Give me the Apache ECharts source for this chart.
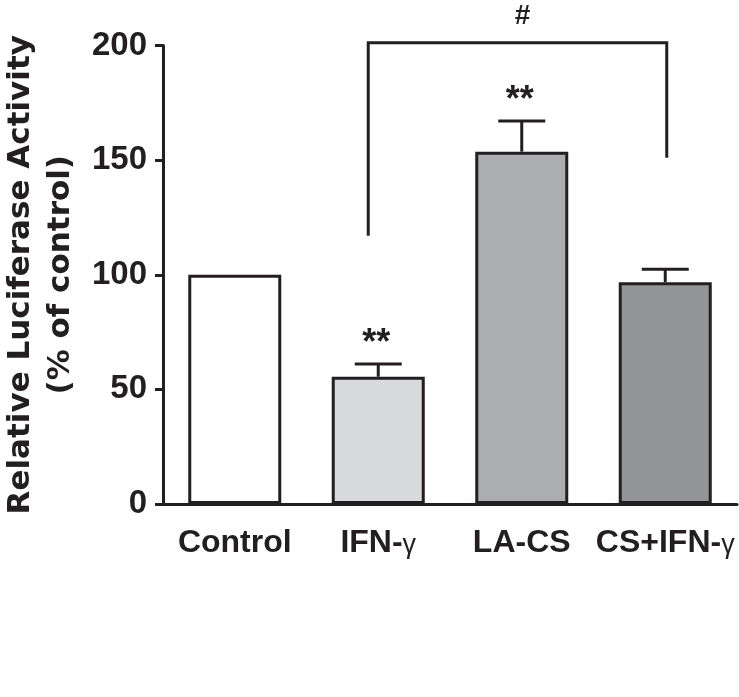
<!DOCTYPE html>
<html>
<head>
<meta charset="utf-8">
<script src="https://cdn.jsdelivr.net/npm/echarts@6/dist/echarts.min.js"></script>
<style>
html,body{margin:0;padding:0;background:#fff;}
#chart{width:739px;height:697px;}
</style>
</head>
<body>
<div id="chart"></div>
<script>
// ---- data ----
const categories = ['Control', 'IFN-γ', 'LA-CS', 'CS+IFN-γ'];
const means = [100, 55.5, 153.7, 96.7];
const errors = [0, 5.6, 13.4, 5.7];
const stars = ['', '**', '**', ''];
const yTicks = [0, 50, 100, 150, 200];
const bracketCats = [1, 3];        // IFN-γ vs CS+IFN-γ
const bracketEnds = [117, 151];    // lower ends of the bracket legs
const bracketTop = 201.2;
const bracketLabel = '#';

// ---- styles ----
const ink = '#231f20';
const fills = ['#ffffff', '#d9dadb', '#acadaf', '#939496'];

const chart = echarts.init(document.getElementById('chart'), null, {renderer: 'canvas'});

const option = {
  animation: false,
  backgroundColor: '#ffffff',
  grid: {left: 163, right: 2, top: 45.5, bottom: 193, containLabel: false, outerBoundsMode: 'none'},
  xAxis: {
    type: 'category',
    data: categories,
    axisLine: {show: true, lineStyle: {color: ink, width: 3}},
    axisTick: {show: false},
    axisLabel: {
      interval: 0,
      hideOverlap: false,
      margin: 23,
      formatter: function (v) {
        if (v.endsWith('γ')) return '{b|' + v.slice(0, -1) + '}{g|γ}';
        return '{b|' + v + '}';
      },
      rich: {
        b: {fontFamily: '"Liberation Sans", Arial', fontWeight: 'bold', fontSize: 32, color: ink, verticalAlign: 'bottom'},
        g: {fontFamily: '"Liberation Sans", Arial', fontWeight: 'normal', fontSize: 27, color: ink, verticalAlign: 'bottom'}
      }
    },
    splitLine: {show: false}
  },
  yAxis: {
    type: 'value',
    min: yTicks[0],
    max: yTicks[yTicks.length - 1],
    interval: yTicks[1] - yTicks[0],
    axisLine: {show: true, lineStyle: {color: ink, width: 3}},
    axisTick: {show: true, length: 8, lineStyle: {color: ink, width: 3}},
    axisLabel: {
      margin: 16,
      fontFamily: '"Liberation Sans", Arial',
      fontWeight: 'bold', fontSize: 33, color: ink
    },
    splitLine: {show: false},
    name: 'Relative Luciferase Activity\n(% of control)',
    nameLocation: 'middle',
    nameRotate: 90,
    nameGap: 82,
    nameTextStyle: {
      fontFamily: '"DejaVu Sans", sans-serif', fontWeight: 'bold',
      fontSize: 31, lineHeight: 40, color: ink, align: 'center'
    }
  },
  series: [
    {
      type: 'bar',
      barWidth: 93,
      data: means.map((v, i) => ({
        value: v,
        itemStyle: {color: fills[i], borderColor: ink, borderWidth: 3}
      })),
      z: 2
    },
    {
      type: 'custom',
      clip: false,
      z: 3,
      data: categories.map((c, i) => [i, means[i], means[i] + errors[i]]),
      renderItem: function (params, api) {
        const i = params.dataIndex;
        const base = api.coord([api.value(0), api.value(1)]);
        const top = api.coord([api.value(0), api.value(2)]);
        const children = [];
        if (api.value(2) > api.value(1)) {
          children.push({
            type: 'line',
            shape: {x1: base[0], y1: base[1], x2: top[0], y2: top[1]},
            style: {stroke: ink, lineWidth: 3}
          });
          children.push({
            type: 'line',
            shape: {x1: top[0] - 23.5, y1: top[1], x2: top[0] + 23.5, y2: top[1]},
            style: {stroke: ink, lineWidth: 3}
          });
        }
        if (stars[i]) {
          children.push({
            type: 'text',
            x: top[0] - 2,
            y: top[1] - 20,
            style: {
              text: stars[i], align: 'center', verticalAlign: 'middle',
              fontFamily: '"Liberation Sans", Arial', fontWeight: 'bold', fontSize: 36, fill: ink
            }
          });
        }
        return {type: 'group', children: children};
      }
    },
    {
      type: 'custom',
      clip: false,
      z: 3,
      data: [[bracketCats[0], bracketCats[1], bracketEnds[0], bracketEnds[1], bracketTop]],
      renderItem: function (params, api) {
        const l = api.coord([api.value(0), api.value(2)]);
        const r = api.coord([api.value(1), api.value(3)]);
        const t = api.coord([api.value(0), api.value(4)]);
        const xl = l[0] - 10, xr = r[0] + 1.5;
        return {
          type: 'group',
          children: [
            {
              type: 'polyline',
              shape: {points: [[xl, l[1]], [xl, t[1]], [xr, t[1]], [xr, r[1]]]},
              style: {stroke: ink, lineWidth: 3, fill: null}
            },
            {
              type: 'text',
              x: (xl + xr) / 2 + 5,
              y: t[1] - 26,
              style: {
                text: bracketLabel, align: 'center', verticalAlign: 'middle',
                fontFamily: '"Liberation Sans", Arial', fontWeight: 'bold', fontSize: 28, fill: ink
              }
            }
          ]
        };
      }
    }
  ]
};
chart.setOption(option);
</script>
</body>
</html>
